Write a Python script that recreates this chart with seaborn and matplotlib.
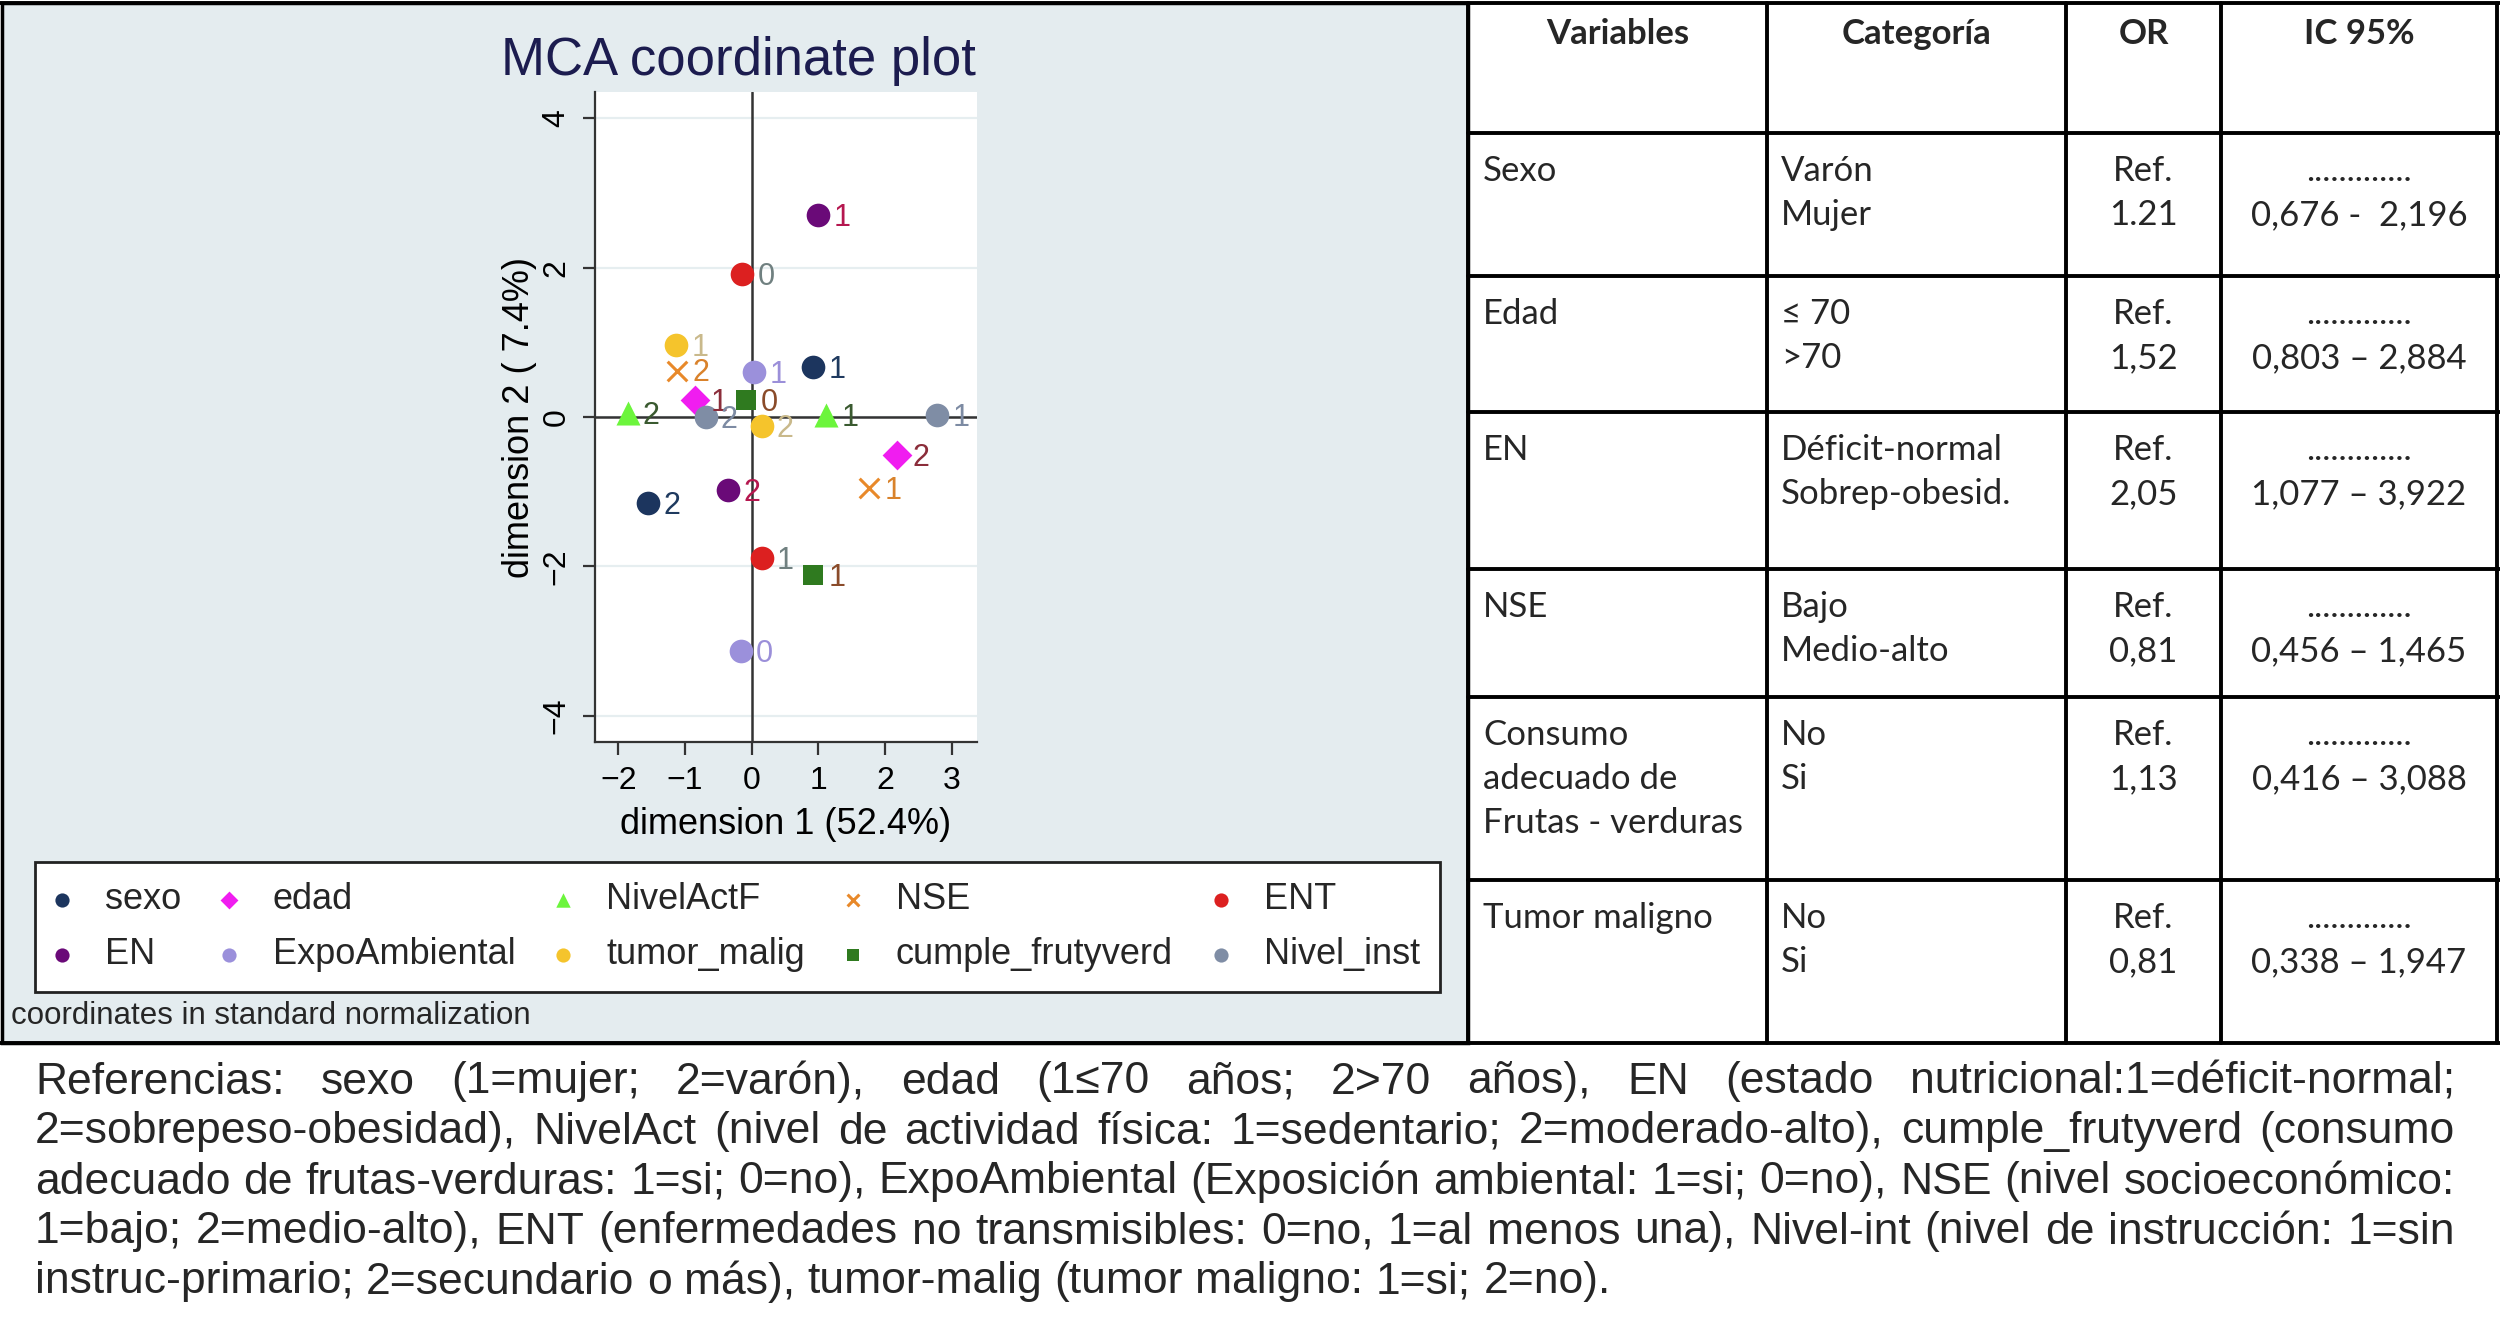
import numpy as np
import pandas as pd
import matplotlib
matplotlib.use("Agg")
import matplotlib.pyplot as plt
import seaborn as sns
from matplotlib.patches import Rectangle
from matplotlib.lines import Line2D

# ---------------- data ----------------
variables = ["sexo", "sexo", "edad", "edad", "NivelActF", "NivelActF", "NSE", "NSE",
             "ENT", "ENT", "EN", "EN", "ExpoAmbiental", "ExpoAmbiental",
             "tumor_malig", "tumor_malig", "cumple_frutyverd", "cumple_frutyverd",
             "Nivel_inst", "Nivel_inst"]
categories = ["1", "2", "1", "2", "1", "2", "1", "2", "0", "1",
              "1", "2", "0", "1", "1", "2", "0", "1", "1", "2"]
dim1 = [0.92, -1.55, -0.85, 2.18, 1.12, -1.86, 1.76, -1.12, -0.14, 0.15,
        1.00, -0.35, -0.165, 0.035, -1.13, 0.15, -0.09, 0.92, 2.78, -0.69]
dim2 = [0.67, -1.15, 0.23, -0.51, 0.03, 0.05, -0.95, 0.62, 1.91, -1.89,
        2.70, -0.98, -3.13, 0.60, 0.96, -0.12, 0.23, -2.12, 0.03, 0.00]

legend_row1 = ["sexo", "edad", "NivelActF", "NSE", "ENT"]
legend_row2 = ["EN", "ExpoAmbiental", "tumor_malig", "cumple_frutyverd", "Nivel_inst"]

x_ticks = [-2, -1, 0, 1, 2, 3]
y_ticks = [-4, -2, 0, 2, 4]

table_header = ["Variables", "Categoría", "OR", "IC 95%"]
table_vars = [["Sexo"], ["Edad"], ["EN"], ["NSE"],
              ["Consumo", "adecuado de", "Frutas - verduras"], ["Tumor maligno"]]
table_cats = [["Varón", "Mujer"], ["≤ 70", ">70"], ["Déficit-normal", "Sobrep-obesid."],
              ["Bajo", "Medio-alto"], ["No", "Si"], ["No", "Si"]]
table_or = [["Ref.", "1.21"], ["Ref.", "1,52"], ["Ref.", "2,05"],
            ["Ref.", "0,81"], ["Ref.", "1,13"], ["Ref.", "0,81"]]
table_ic = [[".............", "0,676 -  2,196"], [".............", "0,803 – 2,884"],
            [".............", "1,077 – 3,922"], [".............", "0,456 – 1,465"],
            [".............", "0,416 – 3,088"], [".............", "0,338 – 1,947"]]

footnote_lines = [
    "Referencias: sexo (1=mujer; 2=varón), edad (1≤70 años; 2>70 años), EN (estado nutricional:1=déficit-normal;",
    "2=sobrepeso-obesidad),  NivelAct (nivel de actividad física: 1=sedentario; 2=moderado-alto), cumple_frutyverd (consumo",
    "adecuado de frutas-verduras: 1=si; 0=no), ExpoAmbiental (Exposición ambiental: 1=si; 0=no), NSE (nivel socioeconómico:",
    "1=bajo; 2=medio-alto), ENT (enfermedades no transmisibles: 0=no, 1=al menos una), Nivel-int (nivel de instrucción: 1=sin",
    "instruc-primario; 2=secundario o más), tumor-malig (tumor maligno: 1=si; 2=no).",
]

# ---------------- styles ----------------
marker_colors = {"sexo": "#1c355e", "edad": "#f01df0", "NivelActF": "#6cf53c", "NSE": "#e8892a",
                 "ENT": "#dc2020", "EN": "#6a0a78", "ExpoAmbiental": "#9b90db",
                 "tumor_malig": "#f5c42c", "cumple_frutyverd": "#2f7a1f", "Nivel_inst": "#7f8da5"}
label_colors = {"sexo": "#1f3a5f", "edad": "#8b2d3a", "NivelActF": "#3a5a30", "NSE": "#d9822b",
                "ENT": "#708080", "EN": "#b5174f", "ExpoAmbiental": "#9b8fd9",
                "tumor_malig": "#c9b98b", "cumple_frutyverd": "#8a4b2a", "Nivel_inst": "#7d8ba3"}
marker_shapes = {"sexo": "o", "edad": "D", "NivelActF": "^", "NSE": "x", "ENT": "o", "EN": "o",
                 "ExpoAmbiental": "o", "tumor_malig": "o", "cumple_frutyverd": "s", "Nivel_inst": "o"}
marker_sizes = {"o": 290, "D": 230, "^": 300, "x": 200, "s": 220}

sns.set_theme(style="white")
SANS = ["Liberation Sans", "DejaVu Sans"]
TAB = ["Lato", "DejaVu Sans"]
plt.rcParams["font.family"] = SANS

W, H = 2500, 1325
fig = plt.figure(figsize=(W / 100, H / 100), dpi=100, facecolor="white")

# background overlay axes in pixel coords
bg = fig.add_axes([0, 0, 1, 1])
bg.set_xlim(0, W)
bg.set_ylim(H, 0)
bg.axis("off")

BOT = 1043
panel_c = "#e4ecef"
bg.add_patch(Rectangle((2, 3), 1466, BOT - 3, facecolor=panel_c, edgecolor="black", lw=2.5, zorder=0))

# ---------------- scatter ----------------
df = pd.DataFrame({"variable": variables, "category": categories, "dim1": dim1, "dim2": dim2})

ax_l, ax_r, ax_t, ax_b = 595, 977, 92, 742
ax = fig.add_axes([ax_l / W, 1 - ax_b / H, (ax_r - ax_l) / W, (ax_b - ax_t) / H])
ax.set_facecolor("white")

for var in legend_row1 + legend_row2:
    sub = df[df["variable"] == var]
    m = marker_shapes[var]
    kw = dict(linewidth=0) if m != "x" else dict(linewidth=2.2)
    sns.scatterplot(data=sub, x="dim1", y="dim2", color=marker_colors[var], marker=m,
                    s=marker_sizes[m], ax=ax, label=var, legend=False, zorder=3, **kw)
    for _, r in sub.iterrows():
        ax.annotate(r["category"], (r["dim1"], r["dim2"]), xytext=(11, -2),
                    textcoords="offset points", ha="left", va="center",
                    fontsize=22, color=label_colors[var], zorder=4)

ax.set_xlim(-2.35, 3.38)
ax.set_ylim(-4.35, 4.35)
ax.set_xticks(x_ticks)
ax.set_yticks(y_ticks)
ax.yaxis.grid(True, color="#e6eef0", lw=1.6)
ax.xaxis.grid(False)
ax.axhline(0, color="#333333", lw=1.8, zorder=2)
ax.axvline(0, color="#333333", lw=1.8, zorder=2)
for s in ["top", "right"]:
    ax.spines[s].set_visible(False)
for s in ["left", "bottom"]:
    ax.spines[s].set_color("#333333")
    ax.spines[s].set_linewidth(1.6)
ax.tick_params(axis="both", direction="out", length=9, width=1.6, color="#333333",
               labelsize=23, labelcolor="black")
ax.tick_params(axis="x", pad=8, bottom=True)
ax.tick_params(axis="y", pad=8, labelrotation=90, left=True)
for t in ax.get_yticklabels():
    t.set_va("center")
ax.set_xlabel("dimension 1 (52.4%)", fontsize=26, labelpad=8, color="black")
ax.set_ylabel("dimension 2 ( 7.4%)", fontsize=26, labelpad=3, color="black")

# legend (column-major order)
h, l = ax.get_legend_handles_labels()
hd = dict(zip(l, h))
order = []
for a, b in zip(legend_row1, legend_row2):
    order += [a, b]
leg = fig.legend([hd[k] for k in order], order, ncol=5, loc="lower left",
                 bbox_to_anchor=(35 / W, 1 - 992 / H, 1405 / W, 131 / H), mode="expand",
                 borderaxespad=0, frameon=True, fancybox=False, edgecolor="#222222",
                 facecolor="white", framealpha=1, fontsize=26, markerscale=0.6,
                 handlelength=0.4, handletextpad=1.0, labelspacing=0.55, borderpad=0.55)
leg.get_frame().set_linewidth(2)

bg.text(738, 61, "MCA coordinate plot", fontsize=38, color="#1c1c4f", ha="center", va="center")
bg.text(11, 1016, "coordinates in standard normalization", fontsize=22.5, ha="left", va="center")

# ---------------- table ----------------
col_x = [1468, 1767, 2066, 2221, 2497]
row_y = [3, 133, 276, 412, 569, 697, 880, BOT]
lw_t = 2.8
for y in row_y:
    x0 = 0 if y in (3, BOT) else col_x[0]
    bg.add_line(Line2D([x0, W], [y, y], color="black", lw=lw_t, zorder=5))
for x in col_x:
    bg.add_line(Line2D([x, x], [3, BOT], color="black", lw=lw_t, zorder=5))

tfs = 25
hdr_y = 34
centers = [(col_x[0] + col_x[1]) / 2, (col_x[1] + col_x[2]) / 2,
           (col_x[2] + col_x[3]) / 2, (col_x[3] + col_x[4]) / 2]
for txt, cx in zip(table_header, centers):
    bg.text(cx, hdr_y, txt, fontsize=tfs, fontweight="bold", family=TAB, ha="center", va="center")

for i in range(len(table_vars)):
    top = row_y[i + 1]
    ys = [top + 38 + 44 * k for k in range(3)]
    for k, s in enumerate(table_vars[i]):
        bg.text(1483, ys[k], s, fontsize=tfs, family=TAB, ha="left", va="center")
    for k, s in enumerate(table_cats[i]):
        bg.text(1781, ys[k], s, fontsize=tfs, family=TAB, ha="left", va="center")
    for k, s in enumerate(table_or[i]):
        bg.text(centers[2], ys[k], s, fontsize=tfs, family=TAB, ha="center", va="center")
    for k, s in enumerate(table_ic[i]):
        bg.text(centers[3], ys[k], s, fontsize=tfs, family=TAB, ha="center", va="center")

# ---------------- justified footnote ----------------
renderer = fig.canvas.get_renderer()
fn_fs = 32


def tw(s):
    t = bg.text(0, 0, s, fontsize=fn_fs, family=SANS)
    w = t.get_window_extent(renderer).width
    t.remove()
    return w


space_w = tw("a a") - tw("aa")
L, R = 35, 2455
for i, line in enumerate(footnote_lines):
    y = 1082 + 50 * i
    words = line.split()
    widths = [tw(w) for w in words]
    if i < len(footnote_lines) - 1:
        gap = (R - L - sum(widths)) / (len(words) - 1)
    else:
        gap = space_w
    x = L
    for w, wd in zip(words, widths):
        bg.text(x, y, w, fontsize=fn_fs, family=SANS, ha="left", va="center")
        x += wd + gap

fig.savefig("out.png", dpi=100, facecolor="white")
